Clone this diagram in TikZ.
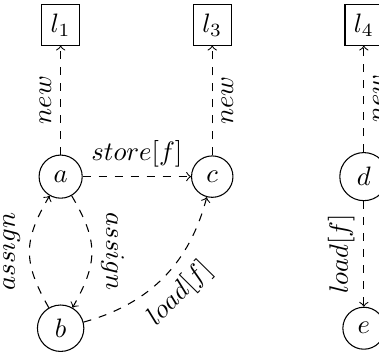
\documentclass[tikz,border=0pt]{standalone}
\usetikzlibrary{arrows}
\begin{document}
\begin{tikzpicture}
\useasboundingbox (-0.8,-2.34) rectangle (4.2,2.33);
\tikzset{
  state/.style={circle, draw},
  loc/.style={rectangle, draw},
  edge/.style={->, dashed}
}
\node[state] (a) at (0,0) {$a$};
\node[state] (c) at (2,0) {$c$};
\node[state] (d) at (4,0) {$d$};
\node[state] (b) at (0,-2) {$b$};
\node[state] (e) at (4,-2) {$e$};
\node[loc] (l1) at (0,2) {$l_1$};
\node[loc] (l3) at (2,2) {$l_3$};
\node[loc] (l4) at (4,2) {$l_4$};

\draw[edge] (a) -- node[sloped, above] {$new$} (l1);
\draw[edge] (c) -- node[sloped, below] {$new$} (l3);
\draw[edge] (d) -- node[sloped, below] {$new$} (l4);
\draw[edge] (a) -- node[above] {$store[f]$} (c);
\draw[edge] (b) to[bend left=30, looseness=1.2] node[midway, rotate=90, anchor=south] {$assign$} (a);
\draw[edge] (a) to[bend left=30, looseness=1.2] node[midway, rotate=-90, anchor=south] {$assign$} (b);
\draw[edge] (b) to[bend right=30] node[sloped, below] {$load[f]$} (c);
\draw[edge] (d) -- node[midway, rotate=90, anchor=south] {$load[f]$} (e);
\end{tikzpicture}
\end{document}
